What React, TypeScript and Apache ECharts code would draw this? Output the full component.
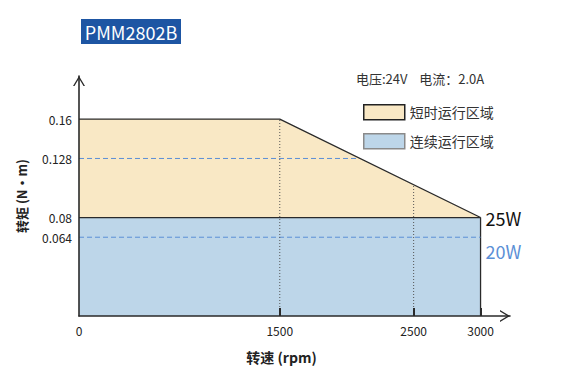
import React, { useEffect, useRef } from 'react';
import * as echarts from 'echarts';

// ---- data ----
const shortSpeeds = [0, 1500, 3000];
const shortTorque = [0.16, 0.16, 0.08];
const contSpeeds = [0, 3000, 3000];
const contTorque = [0.08, 0.08, 0];
const dash128Speeds = [0, 2500];
const dash128Torque = [0.128, 0.128];
const dash064Speeds = [0, 3000];
const dash064Torque = [0.064, 0.064];
const dot1500Speeds = [1500, 1500];
const dot1500Torque = [0, 0.16];
const dot2500Speeds = [2500, 2500];
const dot2500Torque = [0, 0.128];
const xTickLabels = [0, 1500, 2500, 3000];
const xTickMarks = [1500, 2500, 3000];
const yTickLabels = [0.064, 0.08, 0.128, 0.16];
const shortName = '短时运行区域';
const contName = '连续运行区域';
const shortPower = '25W';
const contPower = '20W';

const zip = (xs: number[], ys: number[]) => xs.map((x, i) => [x, ys[i]]);

const FONT = '"Noto Sans CJK SC", "Noto Sans", sans-serif';
const YELLOW = '#f9e8c5';
const BLUE = '#bdd6e9';
const DASH_BLUE = '#5b8fd6';
const DARK = '#2a2a2a';
const ARROW = 'path://M0,10 L6,0 L12,10 L10.5,10 L6,2.6 L1.5,10 Z';

export default function App() {
  const ref = useRef<HTMLDivElement>(null);
  useEffect(() => {
    if (!ref.current) return;
    const chart = echarts.init(ref.current, undefined, { renderer: 'svg' });
    const axisCommon = {
      z: 10,
      splitLine: { show: false },
      axisLine: {
        show: true,
        onZero: true,
        symbol: ['none', ARROW],
        symbolSize: [12, 10],
        symbolOffset: [0, -5],
        lineStyle: { color: DARK, width: 1.6 },
      },
    };
    chart.setOption({
      animation: false,
      textStyle: { fontFamily: FONT },
      grid: { left: 79, top: 76, right: 64, bottom: 71, containLabel: false },
      graphic: [
        { type: 'rect', z: 100, shape: { x: 81, y: 19, width: 100, height: 25 }, style: { fill: '#1d55a3' } },
        {
          type: 'text',
          z: 101,
          x: 131,
          y: 32,
          style: {
            text: 'PMM2802B',
            fontSize: 18,
            fontFamily: FONT,
            fill: '#ffffff',
            align: 'center',
            verticalAlign: 'middle',
          },
        },
        {
          type: 'text',
          z: 100,
          x: 356,
          y: 78,
          style: {
            text: '电压:24V    电流：2.0A',
            fontSize: 13,
            fontFamily: FONT,
            fill: '#333333',
            verticalAlign: 'middle',
          },
        },
      ],
      legend: {
        orient: 'vertical',
        left: 358,
        top: 99,
        z: 100,
        itemWidth: 41,
        itemHeight: 15,
        itemGap: 12.5,
        icon: 'rect',
        selectedMode: false,
        textStyle: { fontSize: 14, lineHeight: 15, color: '#333333', fontFamily: FONT },
        data: [
          { name: shortName, itemStyle: { color: YELLOW, borderColor: '#222222', borderWidth: 1.5 } },
          { name: contName, itemStyle: { color: BLUE, borderColor: '#8a8a8a', borderWidth: 1.5 } },
        ],
      },
      xAxis: {
        ...axisCommon,
        type: 'value',
        min: 0,
        max: 3220,
        name: '转速 (rpm)',
        nameLocation: 'middle',
        nameGap: 34,
        nameTextStyle: { fontSize: 14, fontWeight: 'bold', color: '#222222', padding: [0, 26, 0, 0] },
        axisTick: {
          show: true,
          inside: true,
          length: 8,
          lineStyle: { color: DARK, width: 2 },
          customValues: xTickMarks,
        },
        axisLabel: {
          show: true,
          margin: 8,
          fontSize: 12,
          color: '#222222',
          customValues: xTickLabels,
          formatter: (v: number) => String(v),
        },
      },
      yAxis: {
        ...axisCommon,
        type: 'value',
        min: 0,
        max: 0.195,
        name: '转矩 (N·m)',
        nameLocation: 'middle',
        nameGap: 51,
        nameTextStyle: { fontSize: 13, fontWeight: 'bold', color: '#222222' },
        axisTick: { show: false },
        axisLabel: {
          show: true,
          margin: 7,
          fontSize: 12,
          color: '#222222',
          customValues: yTickLabels,
          formatter: (v: number) => String(+v.toFixed(3)),
        },
      },
      series: [
        {
          name: shortName,
          type: 'line',
          z: 1,
          symbol: 'none',
          color: YELLOW,
          data: zip(shortSpeeds, shortTorque),
          lineStyle: { width: 0, color: YELLOW },
          areaStyle: { color: YELLOW, opacity: 1 },
        },
        {
          name: contName,
          type: 'line',
          z: 1,
          symbol: 'none',
          color: BLUE,
          data: zip(contSpeeds, contTorque),
          lineStyle: { width: 1.3, color: DARK },
          areaStyle: { color: BLUE, opacity: 1 },
        },
        {
          type: 'line',
          z: 2,
          symbol: 'none',
          data: zip(dash128Speeds, dash128Torque),
          lineStyle: { width: 1, color: DASH_BLUE, type: [5, 3] },
        },
        {
          type: 'line',
          z: 2,
          symbol: 'none',
          data: zip(dash064Speeds, dash064Torque),
          lineStyle: { width: 1, color: DASH_BLUE, type: [5, 3] },
          endLabel: {
            show: true,
            formatter: contPower,
            color: DASH_BLUE,
            fontSize: 18,
            fontFamily: FONT,
            distance: 5,
            offset: [0, 14],
          },
        },
        {
          type: 'line',
          z: 2,
          symbol: 'none',
          data: zip(dot1500Speeds, dot1500Torque),
          lineStyle: { width: 1, color: '#555555', type: [1, 2] },
        },
        {
          type: 'line',
          z: 2,
          symbol: 'none',
          data: zip(dot2500Speeds, dot2500Torque),
          lineStyle: { width: 1, color: '#555555', type: [1, 2] },
        },
        {
          // white fill above the short-time boundary, with the boundary stroke
          type: 'line',
          z: 3,
          symbol: 'none',
          data: zip(shortSpeeds, shortTorque),
          lineStyle: { width: 1.3, color: DARK },
          areaStyle: { color: '#ffffff', opacity: 1, origin: 'end' },
          endLabel: {
            show: true,
            formatter: shortPower,
            color: '#111111',
            fontSize: 18,
            fontFamily: FONT,
            distance: 5,
          },
        },
      ],
    });
    return () => chart.dispose();
  }, []);
  return (
    <div
      ref={ref}
      style={{ position: 'fixed', left: 0, top: 0, width: 574, height: 387, background: '#ffffff' }}
    />
  );
}
